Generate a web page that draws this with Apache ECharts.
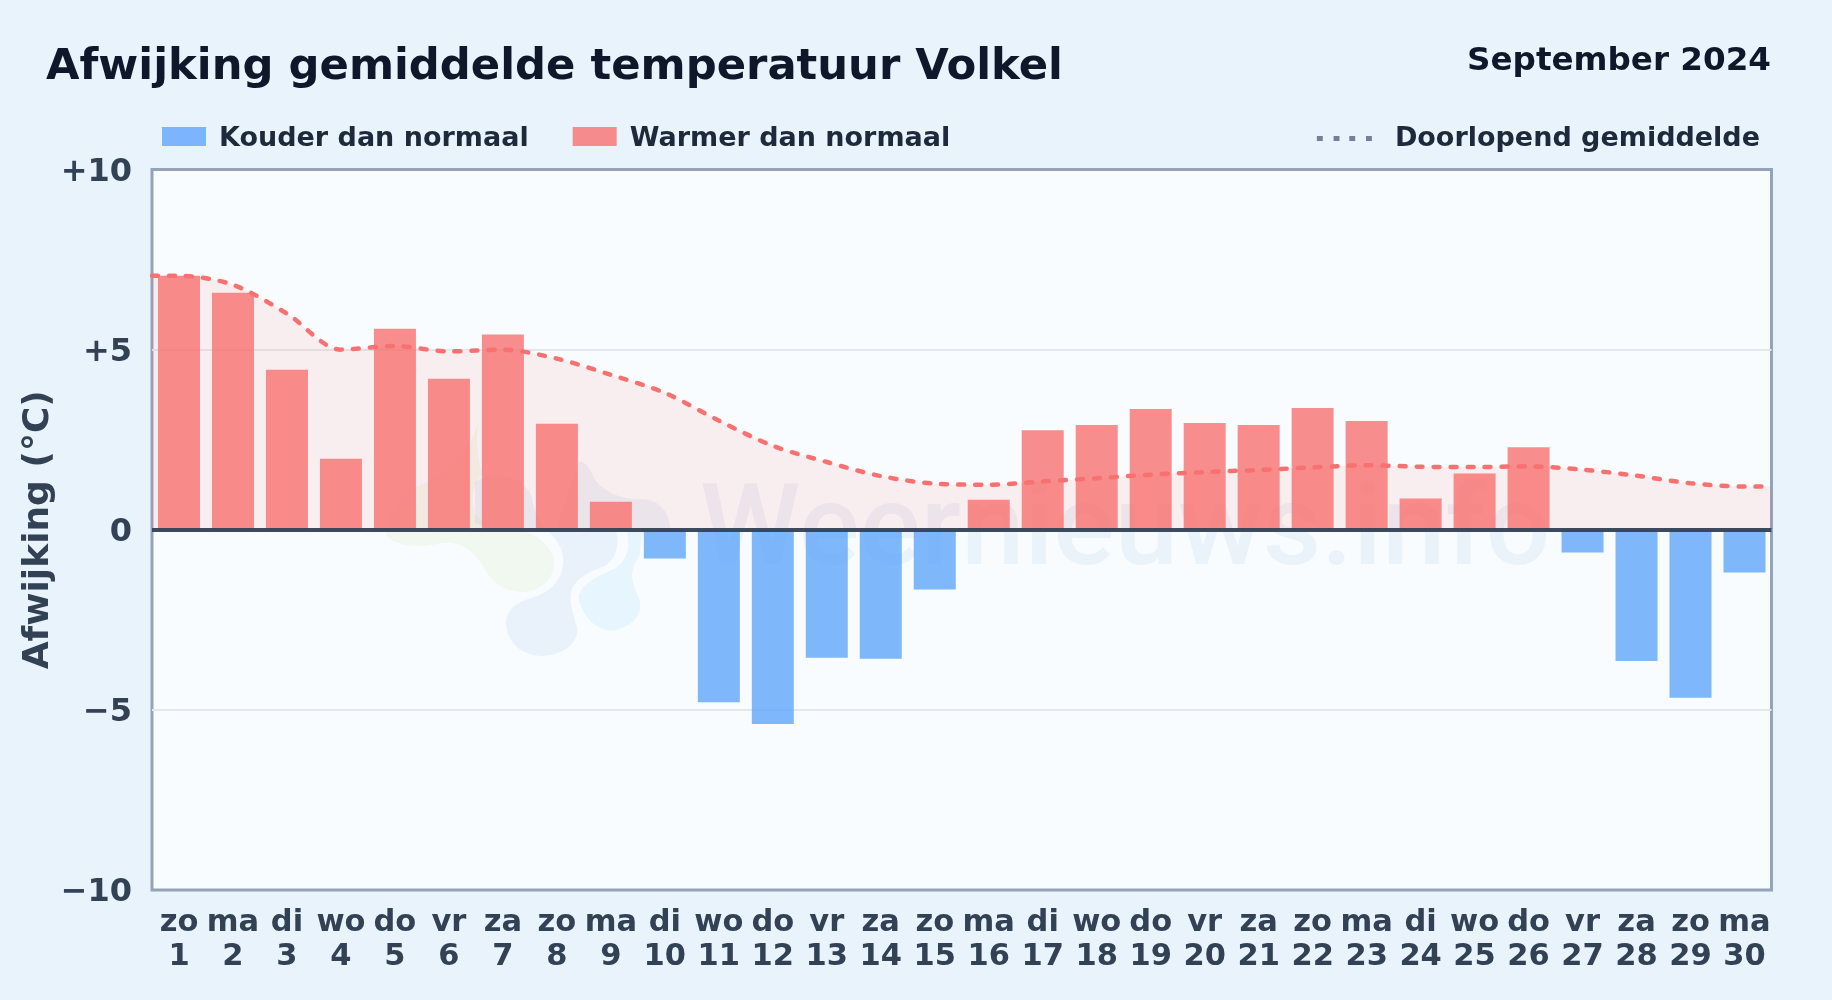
<!DOCTYPE html>
<html><head><meta charset="utf-8">
<style>html,body{margin:0;padding:0;background:#e8f3fc}#c{width:1832px;height:1000px}</style>
<script src="https://cdn.jsdelivr.net/npm/echarts@6/dist/echarts.min.js"></script>
</head><body><div id="c"></div>
<script>
const weekdays=['zo','ma','di','wo','do','vr','za','zo','ma','di','wo','do','vr','za','zo','ma','di','wo','do','vr','za','zo','ma','di','wo','do','vr','za','zo','ma'];
const dates=[1,2,3,4,5,6,7,8,9,10,11,12,13,14,15,16,17,18,19,20,21,22,23,24,25,26,27,28,29,30];
const colder=[null,null,null,null,null,null,null,null,null,-0.80,-4.79,-5.39,-3.55,-3.58,-1.66,null,null,null,null,null,null,null,null,null,null,null,-0.63,-3.64,-4.66,-1.19];
const warmer=[7.05,6.58,4.44,1.97,5.58,4.19,5.42,2.94,0.78,null,null,null,null,null,null,0.83,2.76,2.91,3.35,2.96,2.91,3.38,3.02,0.87,1.56,2.29,null,null,null,null];
const runningAvg=[7.05,6.8,6.0,5.0,5.1,4.95,5.0,4.75,4.3,3.8,3.03,2.33,1.88,1.49,1.28,1.25,1.34,1.43,1.53,1.6,1.66,1.73,1.79,1.75,1.74,1.76,1.67,1.5,1.29,1.2];
const yTicks={min:-10,max:10,step:5};
const FONT='"DejaVu Sans"';
const LINEPTS=[[0,runningAvg[0]],...runningAvg.map((v,i)=>[i+0.5,v]),[30,runningAvg[29]]];
const chart=echarts.init(document.getElementById('c'),null,{renderer:'canvas',width:1832,height:1000});
let blobN=0;
const blob=(d,fill)=>{const name='logoBlob'+(blobN++);echarts.graphic.registerShape(name,echarts.graphic.extendPath(d,{}));return {type:name,z:1,silent:true,style:{fill}};};
const swatch='path://M0 0h44v19H0zM0 23h1';
chart.setOption({
 animation:false,
 backgroundColor:'#e8f3fc',
 title:[
  {text:'Afwijking gemiddelde temperatuur Volkel',left:41,top:41,textStyle:{fontFamily:FONT,fontWeight:'bold',fontSize:43.3,color:'#0f172a'}},
  {text:'September 2024',right:56,top:40,textStyle:{fontFamily:FONT,fontWeight:'bold',fontSize:32.6,color:'#0f172a'}}
 ],
 legend:[
  {data:[{name:'Kouder dan normaal',icon:swatch},{name:'Warmer dan normaal',icon:swatch}],left:157,top:120,itemWidth:44,itemHeight:23,itemGap:44,
   textStyle:{fontFamily:FONT,fontWeight:'bold',fontSize:27,color:'#1e293b',padding:[0,0,0,8]}},
  {data:[{name:'Doorlopend gemiddelde',icon:'path://M0 0h6v5H0zM17 0h6v5h-6zM33 0h6v5h-6zM50 0h6v5h-6z',itemStyle:{color:'#64748b',opacity:.9}}],
   right:67,top:120,itemWidth:55,itemHeight:5,
   textStyle:{fontFamily:FONT,fontWeight:'bold',fontSize:27,color:'#1e293b',padding:[0,0,0,18]}}
 ],
 grid:{left:152,right:60.5,top:169.5,bottom:110,show:true,backgroundColor:'#f8fcff',borderColor:'#94a3b8',borderWidth:3,z:0},
 xAxis:[
  {type:'category',data:dates.map((d,i)=>weekdays[i]+'\n'+d),axisLine:{show:false},axisTick:{show:false},
   axisLabel:{interval:0,margin:16,lineHeight:34,fontFamily:FONT,fontWeight:'bold',fontSize:30.5,color:'#334155'}},
  {type:'value',min:0,max:30,show:false}
 ],
 yAxis:{type:'value',min:yTicks.min,max:yTicks.max,interval:yTicks.step,
  name:'Afwijking (°C)',nameLocation:'middle',nameGap:95,nameRotate:90,nameMoveOverlap:false,
  nameTextStyle:{fontFamily:FONT,fontWeight:'bold',fontSize:36,color:'#334155'},
  axisLine:{show:false},axisTick:{show:false},
  splitLine:{showMinLine:false,showMaxLine:false,lineStyle:{color:'#e2e8f0',width:2}},
  axisLabel:{margin:20,verticalAlign:'top',lineHeight:6,fontFamily:FONT,fontWeight:'bold',fontSize:32,color:'#334155',
   formatter:v=>v>0?'+'+v:(v<0?'\u2212'+Math.abs(v):'0')}},
 graphic:[
  {type:'group',x:360,y:380,scaleX:1/3,scaleY:1/3,z:1,silent:true,children:[
   blob('M360 100 C345 180 300 270 170 320 C120 350 70 420 80 465 C100 500 180 505 240 490 C300 480 340 510 370 560 C395 610 440 640 500 635 C560 625 590 580 580 530 C565 490 530 465 495 455 C430 450 370 440 345 400 C330 350 340 310 365 285 C350 220 345 150 360 100 Z','rgba(190,225,140,0.13)'),
   blob('M345 305 C400 275 490 285 515 350 C525 400 535 430 570 460 C600 490 615 520 608 560 C600 610 560 640 520 652 C480 665 440 680 438 730 C440 790 490 830 550 828 C610 825 655 790 652 745 C640 700 625 670 635 630 C650 590 700 570 730 560 C770 540 780 490 768 455 L930 445 C930 400 900 360 850 358 C780 360 720 330 700 290 C685 250 660 240 655 245 L590 445 C540 450 400 450 345 430 Z','rgba(60,120,190,0.075)'),
   blob('M800 455 L850 455 C835 490 850 520 825 550 C810 580 815 610 835 650 C855 700 820 735 765 752 C710 755 665 710 655 650 C665 610 720 585 755 570 C800 550 815 500 800 455 Z','rgba(100,190,250,0.11)')
  ]},
  {type:'text',z:1,silent:true,x:700,y:592,style:{text:'Weernieuws.info',verticalAlign:'bottom',fontFamily:'Roboto',fontSize:114,fontWeight:500,fill:'rgba(50,110,190,0.07)'}}
 ],
 series:[
  {name:'Kouder dan normaal',type:'bar',data:colder,barWidth:42,barGap:'-100%',z:3,itemStyle:{color:'rgba(96,165,250,0.8)'}},
  {name:'Warmer dan normaal',type:'bar',data:warmer,barWidth:42,barGap:'-100%',z:3,itemStyle:{color:'rgba(248,113,113,0.8)'}},
  {name:'Doorlopend gemiddelde',type:'line',xAxisIndex:1,data:LINEPTS,symbol:'none',smooth:0.3,z:4,
   lineStyle:{color:'#f87171',width:4.5,type:[6,11],cap:'round'},areaStyle:{color:'rgba(255,110,100,0.15)',origin:0}},
  {name:'nul',type:'line',data:[],z:5,markLine:{silent:true,symbol:'none',label:{show:false},lineStyle:{color:'#334155',width:4,type:'solid',opacity:.95},data:[{yAxis:0}]}}
 ]
});
</script></body></html>
